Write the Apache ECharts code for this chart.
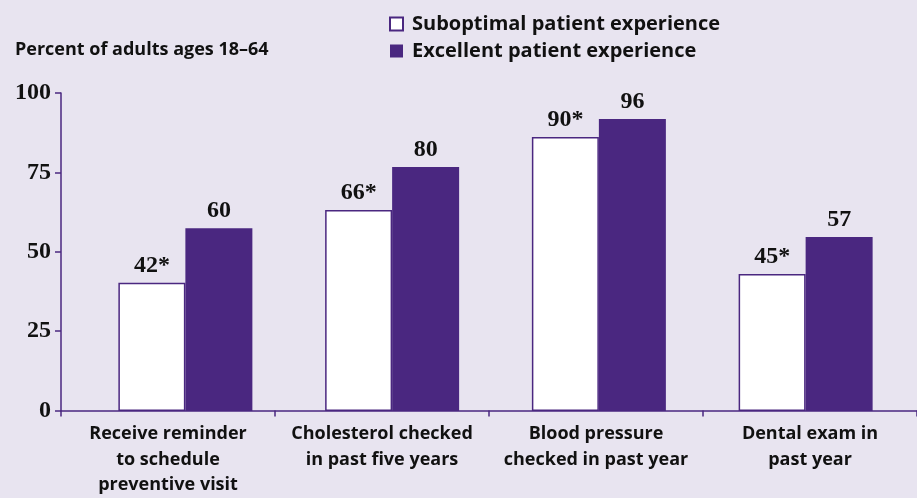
<!DOCTYPE html>
<html>
<head>
<meta charset="utf-8">
<script src="https://cdn.jsdelivr.net/npm/echarts@6/dist/echarts.min.js"></script>
<style>
  html, body { margin: 0; padding: 0; background: #e8e4f0; }
  #main { width: 917px; height: 498px; }
</style>
</head>
<body>
<div id="main"></div>
<script>
// categories on the x axis
var categories = [
  "Receive reminder\nto schedule\npreventive visit",
  "Cholesterol checked\nin past five years",
  "Blood pressure\nchecked in past year",
  "Dental exam in\npast year"
];
var seriesNames = ["Suboptimal patient experience", "Excellent patient experience"];
// bar heights as drawn in the picture
var suboptimal = [40.3, 63.2, 86.2, 43.1];
var excellent = [57.5, 76.7, 91.8, 54.7];
// printed value labels
var suboptimalLabels = ["42*", "66*", "90*", "45*"];
var excellentLabels = ["60", "80", "96", "57"];
var yTicks = [0, 25, 50, 75, 100];

var purple = "#4a2780";
var sans = "'Open Sans', sans-serif";
var serif = "'Liberation Serif', serif";

var chart = echarts.init(document.getElementById("main"));

var labelStyle = {
  show: true,
  position: "top",
  distance: 5,
  color: "#111",
  fontFamily: serif,
  fontWeight: "bold",
  fontSize: 24
};

var option = {
  backgroundColor: "#e8e4f0",
  animation: false,
  title: {
    text: "Percent of adults ages 18\u201364",
    left: 10,
    top: 36,
    textStyle: {
      color: "#111",
      fontFamily: sans,
      fontWeight: "bold",
      fontSize: 18
    }
  },
  legend: {
    data: seriesNames,
    orient: "vertical",
    left: 384,
    top: 9,
    itemWidth: 13,
    itemHeight: 13,
    itemGap: 7,
    icon: "rect",
    textStyle: {
      color: "#111",
      fontFamily: sans,
      fontWeight: "bold",
      fontSize: 20,
      lineHeight: 20,
      padding: [0, 0, 0, 4]
    }
  },
  // grid 0 carries the visible axes, grid 1 places the bars
  grid: [
    { left: 61, right: 0, top: 93, bottom: 87 },
    { left: 82, right: 8, top: 93, bottom: 87 }
  ],
  xAxis: [
    {
      type: "category",
      gridIndex: 0,
      data: categories,
      axisLine: { lineStyle: { color: purple, width: 1.5 } },
      axisTick: { show: true, length: 6, lineStyle: { color: purple, width: 1.5 } },
      axisLabel: {
        color: "#111",
        fontFamily: sans,
        fontWeight: "bold",
        fontSize: 18,
        lineHeight: 25.5,
        margin: 11,
        interval: 0
      }
    },
    {
      type: "category",
      gridIndex: 1,
      data: categories,
      show: false
    }
  ],
  yAxis: [
    {
      type: "value",
      gridIndex: 0,
      min: 0,
      max: 100,
      interval: 25,
      axisLine: { show: true, lineStyle: { color: purple, width: 1.5 } },
      axisTick: { show: true, length: 6, lineStyle: { color: purple, width: 1.5 } },
      splitLine: { show: false },
      axisLabel: {
        color: "#111",
        fontFamily: serif,
        fontWeight: "bold",
        fontSize: 24,
        margin: 10,
        formatter: function (v) {
          return yTicks.indexOf(v) >= 0 ? String(v) : "";
        }
      }
    },
    {
      type: "value",
      gridIndex: 1,
      min: 0,
      max: 100,
      interval: 25,
      show: false
    }
  ],
  series: [
    {
      name: seriesNames[0],
      type: "bar",
      xAxisIndex: 1,
      yAxisIndex: 1,
      data: suboptimal,
      barWidth: 67,
      barGap: "0%",
      itemStyle: { color: "#ffffff", borderColor: purple, borderWidth: 1.5 },
      label: Object.assign({}, labelStyle, {
        formatter: function (p) { return suboptimalLabels[p.dataIndex]; }
      })
    },
    {
      name: seriesNames[1],
      type: "bar",
      xAxisIndex: 1,
      yAxisIndex: 1,
      data: excellent,
      barWidth: 67,
      barGap: "0%",
      itemStyle: { color: purple },
      label: Object.assign({}, labelStyle, {
        formatter: function (p) { return excellentLabels[p.dataIndex]; }
      })
    }
  ]
};

chart.setOption(option);
</script>
</body>
</html>
